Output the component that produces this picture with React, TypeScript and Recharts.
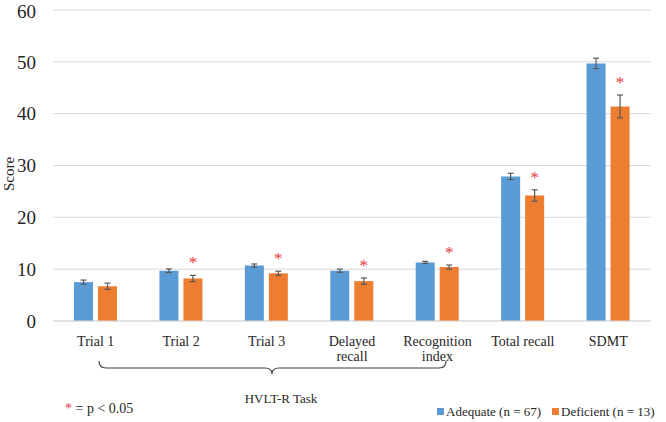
import {
  Bar,
  BarChart,
  CartesianGrid,
  ErrorBar,
  LabelList,
  XAxis,
  YAxis,
} from "recharts";

const categories = [
  "Trial 1",
  "Trial 2",
  "Trial 3",
  "Delayed recall",
  "Recognition index",
  "Total recall",
  "SDMT",
];
const tickLines = [
  ["Trial 1"],
  ["Trial 2"],
  ["Trial 3"],
  ["Delayed", "recall"],
  ["Recognition", "index"],
  ["Total recall"],
  ["SDMT"],
];
const adequate = [7.5, 9.7, 10.7, 9.7, 11.3, 27.9, 49.7];
const adequateErr = [0.4, 0.35, 0.3, 0.3, 0.2, 0.6, 1.0];
const deficient = [6.7, 8.2, 9.2, 7.7, 10.4, 24.2, 41.4];
const deficientErr = [0.6, 0.6, 0.4, 0.6, 0.4, 1.1, 2.2];
const significant = [false, true, true, true, true, true, true];
const yTicks = [0, 10, 20, 30, 40, 50, 60];

const BLUE = "#5b9bd5";
const ORANGE = "#ed7d31";
const STAR = "#e8393f";
const TEXT = "#262626";
const FONT = "Liberation Serif";

const data = categories.map((name, i) => ({
  name,
  adequate: adequate[i],
  adequateErr: adequateErr[i],
  deficient: deficient[i],
  deficientErr: deficientErr[i],
}));

function CategoryTick(props: any) {
  const { x, y, payload } = props;
  const idx = categories.indexOf(payload.value);
  const lines = tickLines[idx] ?? [payload.value];
  return (
    <text x={x} y={y} textAnchor="middle" fill={TEXT} style={{ fontFamily: FONT, fontSize: 14 }}>
      {lines.map((l, i) => (
        <tspan key={i} x={x} dy={i === 0 ? 17 : 15}>
          {l}
        </tspan>
      ))}
    </text>
  );
}

// red asterisk above the error bar of significantly different groups
function renderStar(props: any) {
  const { x, y, width, height, value, index } = props;
  if (!significant[index] || !value) return null;
  const errTop = y - (deficientErr[index] * height) / value;
  return (
    <text
      x={x + width / 2}
      y={errTop - 7}
      textAnchor="middle"
      fill={STAR}
      style={{ fontFamily: FONT, fontSize: 17 }}
    >
      *
    </text>
  );
}

export default function App() {
  return (
    <div
      style={{
        position: "absolute",
        left: 0,
        top: 0,
        width: 666,
        height: 422,
        background: "#fff",
        fontFamily: FONT,
      }}
    >
      <BarChart
        width={666}
        height={422}
        data={data}
        margin={{ top: 10, right: 15, bottom: 0, left: 0 }}
        barGap={5}
        barSize={19}
        style={{ fontFamily: FONT }}
      >
        <CartesianGrid vertical={false} stroke="#d9d9d9" />
        <XAxis
          dataKey="name"
          height={101}
          interval={0}
          axisLine={{ stroke: "#d9d9d9" }}
          tickLine={false}
          tick={<CategoryTick />}
        />
        <YAxis
          width={53}
          domain={[0, 60]}
          ticks={yTicks}
          axisLine={false}
          tickLine={false}
          tickMargin={11}
          tick={{ fontSize: 19, fill: TEXT, style: { fontFamily: FONT } }}
        />
        <Bar dataKey="adequate" fill={BLUE} isAnimationActive={false}>
          <ErrorBar dataKey="adequateErr" width={3} stroke="#595959" strokeWidth={1.2} />
        </Bar>
        <Bar dataKey="deficient" fill={ORANGE} isAnimationActive={false}>
          <ErrorBar dataKey="deficientErr" width={3} stroke="#595959" strokeWidth={1.2} />
          <LabelList dataKey="deficient" content={renderStar} />
        </Bar>
      </BarChart>
      <svg
        width={666}
        height={422}
        style={{ position: "absolute", left: 0, top: 0, pointerEvents: "none", fontFamily: FONT }}
      >
        <text x={14} y={174} transform="rotate(-90 14 174)" textAnchor="middle" fontSize={15} fill={TEXT}>
          Score
        </text>
        <path
          d="M99 361 Q99 368 106 368 L265 368 Q272 368 272 374 Q272 368 279 368 L439 368 Q446 368 446 361"
          fill="none"
          stroke="#404040"
          strokeWidth={1.2}
        />
        <text x={281} y={403} textAnchor="middle" fontSize={13} fill={TEXT}>
          HVLT-R Task
        </text>
        <text x={65} y={413} fontSize={14} fill={TEXT}>
          <tspan fill={STAR}>*</tspan>
          <tspan> = p &lt; 0.05</tspan>
        </text>
        <rect x={437} y={408} width={7} height={7} fill={BLUE} />
        <text x={446} y={416} fontSize={13} fill={TEXT}>
          Adequate (n = 67)
        </text>
        <rect x={552} y={408} width={7} height={7} fill={ORANGE} />
        <text x={561} y={416} fontSize={13} fill={TEXT}>
          Deficient (n = 13)
        </text>
      </svg>
    </div>
  );
}
